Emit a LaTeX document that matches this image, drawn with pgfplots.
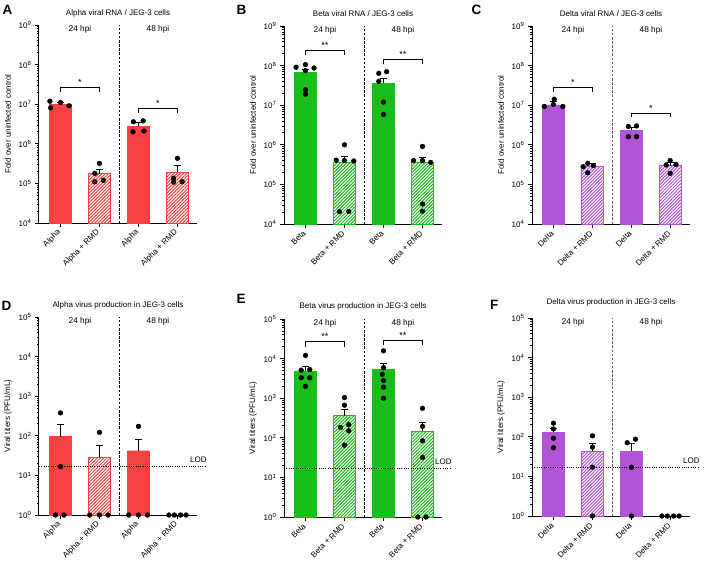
\documentclass[border=0pt]{standalone}
\usepackage{fontspec}
\setmainfont{Liberation Sans}
\usepackage{pgfplots}
\pgfplotsset{compat=1.18}
\usetikzlibrary{patterns.meta}

\definecolor{cR}{RGB}{244,66,66}
\definecolor{cG}{RGB}{26,190,26}
\definecolor{cP}{RGB}{178,84,214}

\pgfplotsset{
  every axis/.append style={
    scale only axis, width=158pt, height=198pt, anchor=south west,
    xmin=-0.55, xmax=3.5,
    axis x line*=bottom, axis y line*=left,
    axis line style={line width=1pt},
    tick align=outside,
    major tick length=4pt, minor tick length=2.2pt,
    tick style={black, line width=0.8pt},
    xtick={0,1,2,3},
    xticklabel shift=3pt,
    xticklabel style={rotate=45, anchor=east, inner sep=1.5pt, font=\fontsize{8}{9}\selectfont},
    yticklabel style={font=\fontsize{8}{9}\selectfont},
    clip=false,
    title style={at={(0.5,1)}, anchor=base, yshift=3.5pt, font=\fontsize{8}{9}\selectfont},
    ylabel style={at={(axis description cs:-0.196,0.5)}, anchor=center, font=\fontsize{8}{9}\selectfont},
  },
  solid bar/.style={ybar, bar width=0.56, bar shift=0pt, draw=#1, fill=#1, line width=0.4pt},
  hatch bar/.style={ybar, bar width=0.56, bar shift=0pt, draw=#1, line width=1pt,
    pattern={Lines[angle=45,distance=2.3pt,line width=1.05pt]}, pattern color=#1},
  dots/.style={only marks, mark=*, mark size=2.4pt, black},
  ebar/.style={black, line width=0.8pt},
  bracket/.style={black, line width=0.7pt},
}
\newcommand\logticks{10\textsuperscript{\pgfmathprintnumber[assume math mode=true,fixed,precision=0]{\tick}}}

% upper error bar with a cap: x, mean, top, cap left, cap right
\newcommand\errbar[5]{%
  \addplot[ebar] coordinates {(#1,#2) (#1,#3)};
  \addplot[ebar] coordinates {(#4,#3) (#5,#3)};
}
% significance bracket: x1, x2, middle, y, leg end, stars
\newcommand\sig[6]{%
  \addplot[bracket] coordinates {(#1,#5) (#1,#4) (#2,#4) (#2,#5)};
  \node[anchor=base, font=\fontsize{9}{9}\selectfont, inner sep=0pt, yshift=2pt] at (axis cs:#3,#4) {#6};
}
% dashed separator between the two time points: colour, ymin, ymax
\newcommand\divider[3]{%
  \addplot[#1, line width=0.8pt, dash pattern=on 2.5pt off 1.6pt] coordinates {(1.5,#2) (1.5,#3)};
}
% time point headers: ymax
\newcommand\hpi[1]{%
  \node[anchor=base, font=\fontsize{8.3}{9}\selectfont, yshift=-6.8pt] at (axis cs:0.5,#1) {24 hpi};
  \node[anchor=base, font=\fontsize{8.3}{9}\selectfont, yshift=-6.8pt] at (axis cs:2.5,#1) {48 hpi};
}
% limit of detection
\newcommand\lod[1]{%
  \addplot[black, line width=0.6pt, dash pattern=on 1pt off 1.3pt] coordinates {(-0.55,#1) (3.75,#1)};
  \node[anchor=base east, font=\fontsize{8}{9}\selectfont, inner sep=0pt, yshift=4pt] at (axis cs:3.75,#1) {LOD};
}

\begin{document}
\begin{tikzpicture}
\useasboundingbox (0pt,0pt) rectangle (708pt,-565pt);

\node[anchor=base west, inner sep=0pt, font=\bfseries\fontsize{13.5}{14}\selectfont] at (2.5pt,-14pt) {A};
\node[anchor=base west, inner sep=0pt, font=\bfseries\fontsize{13.5}{14}\selectfont] at (236.5pt,-14pt) {B};
\node[anchor=base west, inner sep=0pt, font=\bfseries\fontsize{13.5}{14}\selectfont] at (471.5pt,-14pt) {C};
\node[anchor=base west, inner sep=0pt, font=\bfseries\fontsize{13.5}{14}\selectfont] at (1.5pt,-310pt) {D};
\node[anchor=base west, inner sep=0pt, font=\bfseries\fontsize{13.5}{14}\selectfont] at (236.5pt,-303pt) {E};
\node[anchor=base west, inner sep=0pt, font=\bfseries\fontsize{13.5}{14}\selectfont] at (490pt,-309pt) {F};

% ---------- A ----------
\begin{axis}[ymode=log, log basis y=10, log origin=infty, yticklabel={\logticks},
  at={(39pt,-223pt)}, ymin=1e4, ymax=1e9,
  title={Alpha viral RNA / JEG-3 cells}, ylabel={Fold over uninfected control},
  xticklabels={Alpha, Alpha + RMD, Alpha, Alpha + RMD}]
\addplot[solid bar=cR] coordinates {(0,1.0e7) (2,2.8e6)};
\addplot[hatch bar=cR] coordinates {(1,1.75e5) (3,1.9e5)};
\errbar{0}{1.0e7}{1.1e7}{-0.095}{0.095}
\errbar{1}{1.75e5}{2.3e5}{0.905}{1.095}
\errbar{2}{2.8e6}{3.4e6}{1.905}{2.095}
\errbar{3}{1.9e5}{2.8e5}{2.905}{3.095}
\addplot[dots] coordinates {
  (-0.27,1.19e7) (-0.25,8.1e6) (0,1.1e7) (0.22,9.1e6)
  (1,3.2e5) (0.88,1.8e5) (1.1,1.2e5) (0.88,1.1e5)
  (1.87,3.6e6) (2.12,3.8e6) (1.86,2.0e6) (2.14,2.1e6)
  (3,4.3e5) (2.9,1.35e5) (2.9,1.08e5) (3.12,1.1e5)};
\divider{black}{1e4}{1e9}
\hpi{1e9}
\sig{0}{1}{0.5}{2.6e7}{2.0e7}{*}
\sig{2}{3}{2.5}{7.8e6}{6.1e6}{*}
\end{axis}

% ---------- B ----------
\begin{axis}[ymode=log, log basis y=10, log origin=infty, yticklabel={\logticks},
  at={(284pt,-224pt)}, ymin=1e4, ymax=1e9,
  title={Beta viral RNA / JEG-3 cells}, ylabel={Fold over uninfected control},
  xticklabels={Beta, Beta + RMD, Beta, Beta + RMD}]
\addplot[solid bar=cG] coordinates {(0,6.7e7) (2,3.6e7)};
\addplot[hatch bar=cG] coordinates {(1,3.64e5) (3,3.5e5)};
\errbar{0}{6.7e7}{8.2e7}{-0.095}{0.095}
\errbar{1}{3.64e5}{5.1e5}{0.905}{1.095}
\errbar{2}{3.6e7}{4.8e7}{1.905}{2.095}
\errbar{3}{3.5e5}{4.9e5}{2.905}{3.095}
\addplot[dots] coordinates {
  (-0.24,9.1e7) (0,1.06e8) (0.22,8.7e7) (0,7.5e7) (0,2.46e7) (0,1.9e7)
  (1,1.0e6) (0.79,4.1e5) (1,4.0e5) (1.24,3.9e5) (0.87,2.06e4) (1.11,2.06e4)
  (1.88,6.4e7) (2.08,7.0e7) (1.88,4.0e7) (2,1.2e7) (2,5.8e6)
  (3,9.1e5) (2.77,4.0e5) (3,4.0e5) (3.21,3.6e5) (3,3.2e4) (3,2.1e4)};
\divider{black}{1e4}{1e9}
\hpi{1e9}
\sig{0}{1}{0.5}{2.4e8}{1.87e8}{**}
\sig{2}{3}{2.5}{1.4e8}{1.1e8}{**}
\end{axis}

% ---------- C ----------
\begin{axis}[ymode=log, log basis y=10, log origin=infty, yticklabel={\logticks},
  at={(532pt,-224pt)}, ymin=1e4, ymax=1e9,
  title={Delta viral RNA / JEG-3 cells}, ylabel={Fold over uninfected control},
  xticklabels={Delta, Delta + RMD, Delta, Delta + RMD}]
\addplot[solid bar=cP] coordinates {(0,1.02e7) (2,2.3e6)};
\addplot[hatch bar=cP] coordinates {(1,2.8e5) (3,2.95e5)};
\errbar{0}{1.02e7}{1.24e7}{-0.095}{0.095}
\errbar{1}{2.8e5}{3.4e5}{0.905}{1.095}
\errbar{2}{2.3e6}{2.8e6}{1.905}{2.095}
\errbar{3}{2.95e5}{3.7e5}{2.905}{3.095}
\addplot[dots] coordinates {
  (-0.235,9.3e6) (0.02,1.42e7) (0.24,9.3e6) (0,1.05e7)
  (0.76,2.8e5) (0.88,3.4e5) (1.02,3.0e5) (0.88,1.97e5)
  (1.92,2.9e6) (2.13,3.0e6) (1.92,1.6e6) (2.13,1.6e6)
  (2.99,4.0e5) (2.89,3.1e5) (3.14,3.2e5) (2.99,1.9e5)};
\divider{black!60}{1e4}{1e9}
\hpi{1e9}
\sig{0}{1}{0.5}{2.85e7}{2.2e7}{*}
\sig{2}{3}{2.5}{6.2e6}{4.9e6}{*}
\end{axis}

% ---------- D ----------
\begin{axis}[ymode=log, log basis y=10, log origin=infty, yticklabel={\logticks},
  at={(39pt,-515pt)}, ymin=1, ymax=1e5,
  title={Alpha virus production in JEG-3 cells}, ylabel={Viral titers (PFU/mL)},
  xticklabels={Alpha, Alpha + RMD, Alpha, Alpha + RMD}]
\addplot[solid bar=cR] coordinates {(0,96) (2,42)};
\addplot[hatch bar=cR] coordinates {(1,29)};
\errbar{0}{96}{190}{-0.095}{0.095}
\errbar{1}{29}{58}{0.905}{1.095}
\errbar{2}{42}{83}{1.905}{2.095}
\lod{16.7}
\addplot[dots] coordinates {
  (0,379) (0,16.7) (-0.13,1) (0.09,1)
  (1,122) (0.75,1) (1,1) (1.22,1)
  (2,173) (1.75,1) (2,1) (2.23,1)
  (2.78,1) (2.92,1) (3.08,1) (3.22,1)};
\divider{black}{1}{1e5}
\hpi{1e5}
\end{axis}

% ---------- E ----------
\begin{axis}[ymode=log, log basis y=10, log origin=infty, yticklabel={\logticks},
  at={(284pt,-517pt)}, ymin=1, ymax=1e5,
  title={Beta virus production in JEG-3 cells}, ylabel={Viral titers (PFU/mL)},
  xticklabels={Beta, Beta + RMD, Beta, Beta + RMD},
  title style={yshift=1pt}]
\addplot[solid bar=cG] coordinates {(0,4.9e3) (2,5.25e3)};
\addplot[hatch bar=cG] coordinates {(1,363) (3,145)};
\errbar{0}{4.9e3}{6.5e3}{-0.095}{0.095}
\errbar{1}{363}{525}{0.905}{1.095}
\errbar{2}{5.25e3}{7.5e3}{1.905}{2.095}
\errbar{3}{145}{240}{2.905}{3.095}
\lod{16.7}
\addplot[dots] coordinates {
  (0,1.2e4) (-0.11,5.1e3) (0.11,5.3e3) (-0.11,3.3e3) (0.11,3.3e3) (0,2.0e3)
  (1,1.04e3) (1,665) (0.9,183) (1.11,214) (1.11,150) (1,65)
  (2,1.57e4) (2,5.9e3) (1.97,4.0e3) (2,2.8e3) (2,1.9e3) (2,1.0e3)
  (3,557) (3,194) (3,84) (3,32) (2.88,1) (3.09,1)};
\divider{black}{1}{1e5}
\hpi{1e5}
\sig{0}{1}{0.5}{2.7e4}{2.0e4}{**}
\sig{2}{3}{2.5}{2.95e4}{2.25e4}{**}
\end{axis}

% ---------- F ----------
\begin{axis}[ymode=log, log basis y=10, log origin=infty, yticklabel={\logticks},
  at={(532pt,-516pt)}, ymin=1, ymax=1e5,
  title={Delta virus production in JEG-3 cells}, ylabel={Viral titers (PFU/mL)},
  xticklabels={Delta, Delta + RMD, Delta, Delta + RMD},
  title style={yshift=4pt}]
\addplot[solid bar=cP] coordinates {(0,129) (2,43)};
\addplot[hatch bar=cP] coordinates {(1,43)};
\errbar{0}{129}{164}{-0.095}{0.095}
\errbar{1}{43}{69}{0.905}{1.095}
\errbar{2}{43}{67}{1.905}{2.095}
\lod{17}
\addplot[dots] coordinates {
  (0,221) (0,158) (0,92) (0,53)
  (1,106) (1,55) (1,17) (1,1)
  (1.89,71) (2.1,87) (2,17) (2,1)
  (2.78,1) (2.92,1) (3.08,1) (3.22,1)};
\divider{black!60}{1}{1e5}
\hpi{1e5}
\end{axis}
\end{tikzpicture}
\end{document}
